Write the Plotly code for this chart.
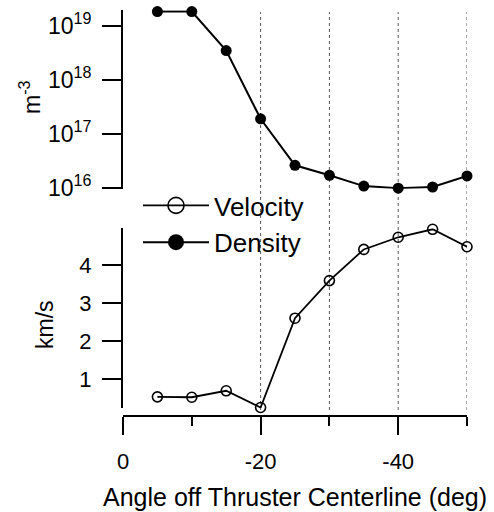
import plotly.graph_objects as go

angle = [-5, -10, -15, -20, -25, -30, -35, -40, -45, -50]
velocity = [0.53, 0.52, 0.69, 0.25, 2.6, 3.59, 4.41, 4.73, 4.94, 4.48]
density = [1.85e19, 1.85e19, 3.5e18, 1.9e17, 2.6e16, 1.7e16, 1.07e16, 9.8e15, 1.03e16, 1.65e16]
density_ticks = [1e16, 1e17, 1e18, 1e19]
density_ticktext = ["10<sup>16</sup>", "10<sup>17</sup>", "10<sup>18</sup>", "10<sup>19</sup>"]
velocity_ticks = [1, 2, 3, 4]
x_ticks = [0, -20, -40]
x_ticktext = ["0", "-20", "-40"]
x_minor = [-10, -30, -50]
grid_x = [-20, -30, -40, -50]

FONT = "Liberation Sans, Arial, Helvetica, sans-serif"
H = 512.0
W = 494.0

fig = go.Figure()
fig.add_trace(go.Scatter(x=angle, y=velocity, mode="lines+markers", name="Velocity",
                         line=dict(color="black", width=1.8), showlegend=False,
                         marker=dict(symbol="circle-open", size=10, color="black", line=dict(width=1.6)),
                         cliponaxis=False, xaxis="x", yaxis="y"))
fig.add_trace(go.Scatter(x=angle, y=density, mode="lines+markers", name="Density",
                         line=dict(color="black", width=2), showlegend=False,
                         marker=dict(symbol="circle", size=11, color="black"),
                         cliponaxis=False, xaxis="x", yaxis="y2"))
# legend entries
fig.add_trace(go.Scatter(x=[None], y=[None], mode="lines+markers", name="Velocity",
                         line=dict(color="black", width=1.6), legendgroup="v",
                         marker=dict(symbol="circle-open", size=16, color="black", line=dict(width=1.6)),
                         xaxis="x", yaxis="y"))
fig.add_trace(go.Scatter(x=[None], y=[None], mode="lines+markers", name="Density",
                         line=dict(color="black", width=2), legendgroup="d",
                         marker=dict(symbol="circle", size=16, color="black"),
                         xaxis="x", yaxis="y"))

for gx in grid_x:
    fig.add_shape(type="line", xref="x", yref="paper", x0=gx, x1=gx,
                  y0=(H - 410) / H, y1=(H - 12) / H,
                  line=dict(color="#555", width=1, dash="dot"), layer="below")

# top panel: 10^19 at y=26, 10^16 at y=187.7 -> 53.9 px/decade
top_lo, top_hi = 15.98, 19.29
px_dec = 53.9
top_y1 = 26 - (top_hi - 19) * px_dec
top_y0 = 187.7 + (16 - top_lo) * px_dec
# bottom panel: 4 at 265, 1 at 379 -> 38 px/unit
bot_lo, bot_hi = 0.24, 4.97
bot_y0 = 417 - bot_lo * 38
bot_y1 = 417 - bot_hi * 38

fig.update_layout(
    width=494, height=512,
    margin=dict(l=0, r=0, t=0, b=0),
    paper_bgcolor="white", plot_bgcolor="white",
    font=dict(family=FONT, color="black", size=22),
    xaxis=dict(domain=[123 / W, 467 / W], range=[0, -50], anchor="free",
               position=(H - 416) / H, tickvals=x_ticks, ticktext=x_ticktext,
               ticks="outside", ticklen=18, tickwidth=2, tickcolor="black", showline=True,
               linecolor="black", linewidth=2, showgrid=False, zeroline=False,
               tickfont=dict(size=22), ticklabelstandoff=8,
               minor=dict(tickvals=x_minor, ticks="outside", ticklen=9,
                          tickwidth=2, tickcolor="black", showgrid=False),
               automargin=False),
    yaxis=dict(domain=[(H - bot_y0) / H, (H - bot_y1) / H], range=[bot_lo, bot_hi],
               anchor="x", tickvals=velocity_ticks, ticks="outside", ticklen=19,
               tickwidth=2, tickcolor="black", showline=True, linecolor="black",
               linewidth=2, showgrid=False, zeroline=False, tickfont=dict(size=22),
               ticklabelstandoff=6, automargin=False),
    yaxis2=dict(domain=[(H - top_y0) / H, (H - top_y1) / H], type="log",
                range=[top_lo, top_hi], anchor="x", tickvals=density_ticks,
                ticktext=density_ticktext, ticks="outside", ticklen=19, tickwidth=2,
                tickcolor="black", showline=True, linecolor="black", linewidth=2,
                showgrid=False, zeroline=False, tickfont=dict(size=23),
                ticklabelstandoff=6, automargin=False),
    legend=dict(x=138 / W, y=(H - 182) / H, xanchor="left", yanchor="top",
                font=dict(size=26), bgcolor="rgba(0,0,0,0)", tracegroupgap=0,
                itemwidth=66),
    annotations=[
        dict(text="Angle off Thruster Centerline (deg)", x=(98 + 492) / 2 / W,
             y=(H - 497) / H, xref="paper", yref="paper", showarrow=False,
             font=dict(size=25), xanchor="center", yanchor="middle"),
        dict(text="km/s", x=45 / W, y=(H - 325) / H, xref="paper", yref="paper",
             showarrow=False, textangle=-90, font=dict(size=23),
             xanchor="center", yanchor="middle"),
        dict(text="m<sup>-3</sup>", x=30 / W, y=(H - 97) / H, xref="paper",
             yref="paper", showarrow=False, textangle=-90, font=dict(size=23),
             xanchor="center", yanchor="middle"),
    ],
)

fig.write_html("out.html", config={"displayModeBar": False},
               post_script="document.body.style.margin='0';document.body.style.overflow='hidden';")
